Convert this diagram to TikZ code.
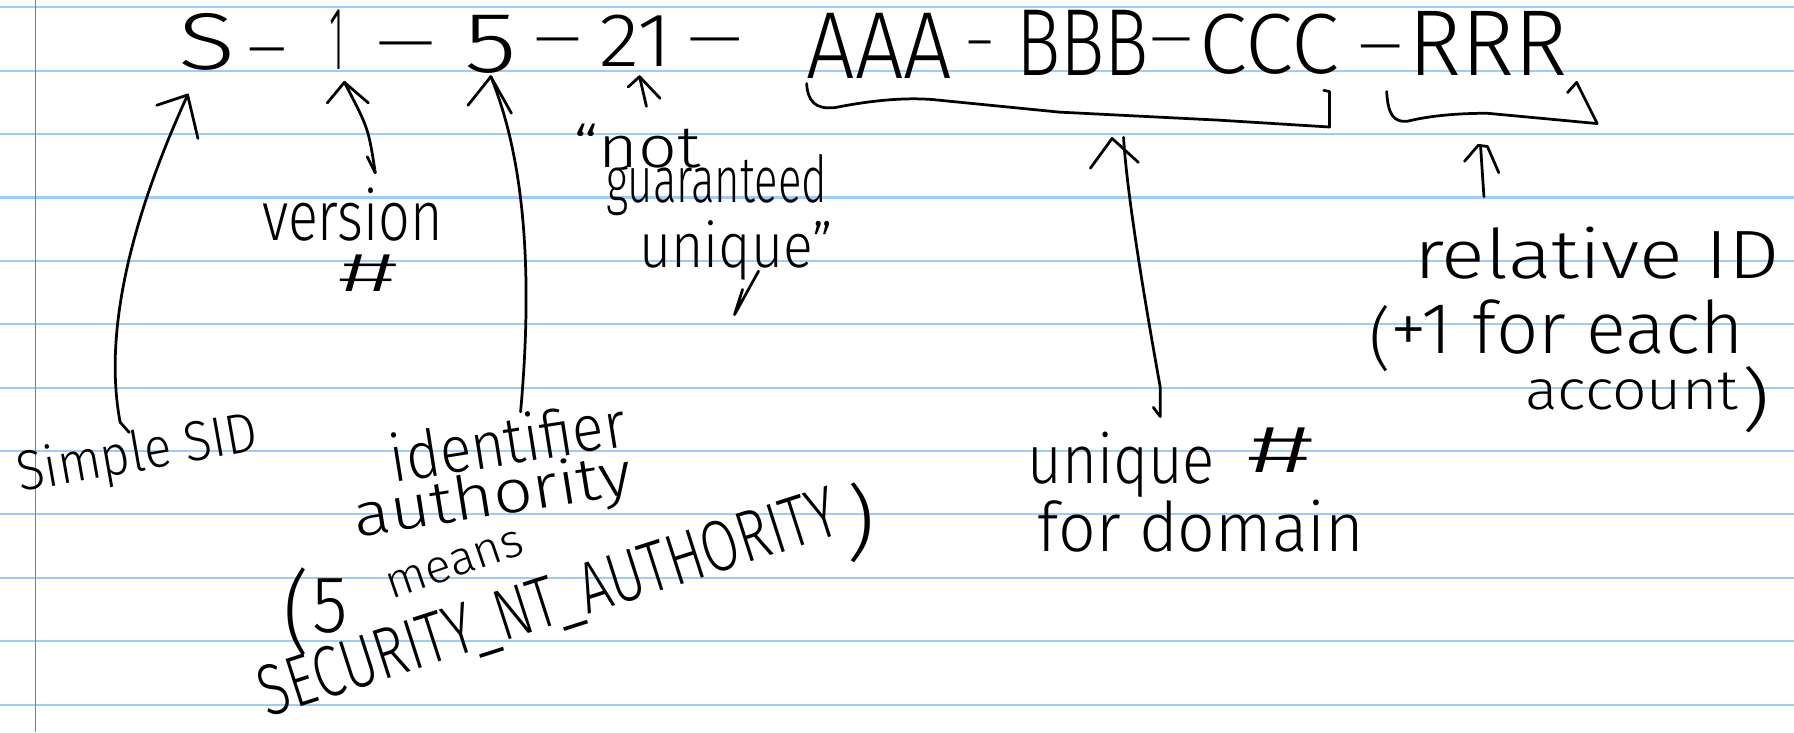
\documentclass[tikz,border=0pt]{standalone}
\usepackage{fontspec}
\setmainfont{Fira Sans}[UprightFont={* Light}]
\usepackage{graphicx}
\newcommand\hwt[3]{\resizebox{#1pt}{#2pt}{#3}}
\newcommand\hwp[3]{\resizebox*{#1pt}{#2pt}{#3}}
\definecolor{rulecol}{RGB}{158,204,248}
\definecolor{margincol}{RGB}{196,96,128}
\tikzset{
 ink/.style={line width=2.4pt, line cap=round, line join=round, draw=black},
 lbl/.style={inner sep=0pt, outer sep=0pt, anchor=base west, text=black},
 par/.style={inner sep=0pt, outer sep=0pt, anchor=north west, text=black},
 paperrule/.style={draw=rulecol, line width=1.8pt},
 marginrule/.style={draw=margincol, line width=1.4pt},
}
\begin{document}
\begin{tikzpicture}[x=1pt,y=-1pt]
\useasboundingbox (0,0) rectangle (1568,640);
\fill[white] (0,0) rectangle (1568,640);
\foreach \k in {0,...,11}{\draw[paperrule] (0,{6.4+55.4*\k}) -- (1568,{6.4+55.4*\k});}
\draw[marginrule] (31,0) -- (31,640);

% top row
\node[lbl] (tS) at (156,61) {\hwt{50}{49}{S}};
\node[lbl] (d1) at (211,60) {\hwt{45}{18}{-}};
\node[lbl] (t1) at (288,61) {\hwt{13}{52}{1}};
\node[lbl] (d2) at (320,55) {\hwt{69}{18}{-}};
\node[lbl] (t5) at (406,63) {\hwt{46}{50}{5}};
\node[lbl] (d3) at (460,51) {\hwt{55}{18}{-}};
\node[lbl] (t21) at (524,58) {\hwt{63}{45}{21}};
\node[lbl] (d4) at (593,51) {\hwt{64}{18}{-}};
\node[lbl] (tA) at (705,69) {\hwt{127}{57}{AAA}};
\node[lbl] (d5) at (842,54) {\hwt{29}{18}{-}};
\node[lbl] (tB) at (888,66) {\hwt{116}{57}{BBB}};
\node[lbl] (d6) at (999,51) {\hwt{49}{18}{-}};
\node[lbl] (tC) at (1048,64) {\hwt{122}{52}{CCC}};
\node[lbl] (d7) at (1181,57) {\hwt{51}{18}{-}};
\node[lbl] (tR) at (1231,66) {\hwt{139}{56}{RRR}};

% labels
\node[lbl] (version) at (229,210) {\hwt{158}{46}{version}};
\node[lbl] (hash1) at (296,255) {\hwt{52}{32}{\#}};
\node[lbl, rotate=10] (simple) at (18,430) {\hwt{213}{37}{Simple SID}};
\node[lbl, rotate=9] (ident) at (344,422) {\hwt{208}{43}{identifier}};
\node[lbl, rotate=9] (auth) at (312,470) {\hwt{246}{40}{authority}};
\node[par] (lp1) at (248,496) {\hwp{23}{77}{(}};
\node[lbl] (five) at (273,553) {\hwt{31}{47}{5}};
\node[lbl, rotate=19] (means) at (342,524) {\hwt{125}{22}{means}};
\node[lbl, rotate=17.8] (secnt) at (234,627) {\hwt{528}{44}{SECURITY\_NT\_AUTHORITY}};
\node[par] (rp1) at (740,422) {\hwp{25}{70}{)}};
\node[lbl] (nq1) at (501,146) {\hwt{111}{38}{\textquotedblleft not}};
\node[lbl] (nq2) at (530,177) {\hwt{193}{42}{guaranteed}};
\node[lbl] (nq3) at (559,234) {\hwt{169}{41}{unique\textquotedblright}};
\node[lbl] (uq) at (898,423) {\hwt{164}{45}{unique}};
\node[lbl] (hash2) at (1090,413) {\hwt{58}{39}{\#}};
\node[lbl] (fordom) at (907,482) {\hwt{285}{45}{for domain}};
\node[lbl] (relid) at (1236,243) {\hwt{319}{45}{relative ID}};
\node[par] (lp2) at (1197,267) {\hwp{19}{58}{(}};
\node[lbl] (plus) at (1215,309) {\hwt{309}{47}{+1 for each}};
\node[lbl] (acct) at (1333,358) {\hwt{186}{32}{account}};
\node[par] (rp2) at (1522,320) {\hwp{25}{58}{)}};

% arrow end points
\coordinate (sTip) at (164,83);
\coordinate (sTail) at (113,378);
\coordinate (vTip) at (301,72);
\coordinate (vTail) at (328,151);
\coordinate (fTip) at (429,67);
\coordinate (fTail) at (455,360);
\coordinate (tTip) at (559,67);
\coordinate (tTail) at (565,93);
\coordinate (uTip) at (982,120);
\coordinate (uTail) at (1014,364);
\coordinate (rTip) at (1294,127);
\coordinate (rTail) at (1297,172);

% Simple SID arrow
\draw[ink] (sTail) -- (105,369) .. controls (90,290) and (115,190) .. (sTip);
\draw[ink] (137,92) -- (sTip) -- (173,121);
% version arrow
\draw[ink] (vTail) .. controls (322,112) .. (vTip);
\draw[ink] (286,90) -- (vTip) -- (322,90);
\draw[ink] (321,137) -- (vTail);
% identifier authority arrow
\draw[ink] (fTail) .. controls (464,260) and (463,150) .. (fTip);
\draw[ink] (409,92) -- (fTip) -- (447,99);
% 21 arrow
\draw[ink] (tTail) -- (tTip);
\draw[ink] (549,76) -- (tTip) -- (577,86);
% mark under "unique"
\draw[ink] (649,253) -- (642,275) -- (663,237);
% unique # arrow
\draw[ink] (uTail) -- (1014,338) .. controls (1000,260) and (985,170) .. (uTip);
\draw[ink] (953,147) -- (972,121) -- (995,142);
\draw[ink] (1008,356) -- (uTail);
% relative ID arrow
\draw[ink] (rTail) .. controls (1296,150) .. (rTip);
\draw[ink] (1280,141) -- (1292,127) -- (1300,128) -- (1310,151);

% braces
\draw[ink] (705,73) .. controls (706,88) and (712,96) .. (730,94)
  .. controls (760,88) and (790,85) .. (815,87) -- (926,98) -- (1065,105) -- (1162,111) -- (1162,80) -- (1157,79);
\draw[ink] (1212,80) .. controls (1213,100) and (1218,107) .. (1230,106)
  .. controls (1250,101) and (1275,99) .. (1300,99) -- (1396,108) -- (1378,72) -- (1370,81);
\end{tikzpicture}
\end{document}
